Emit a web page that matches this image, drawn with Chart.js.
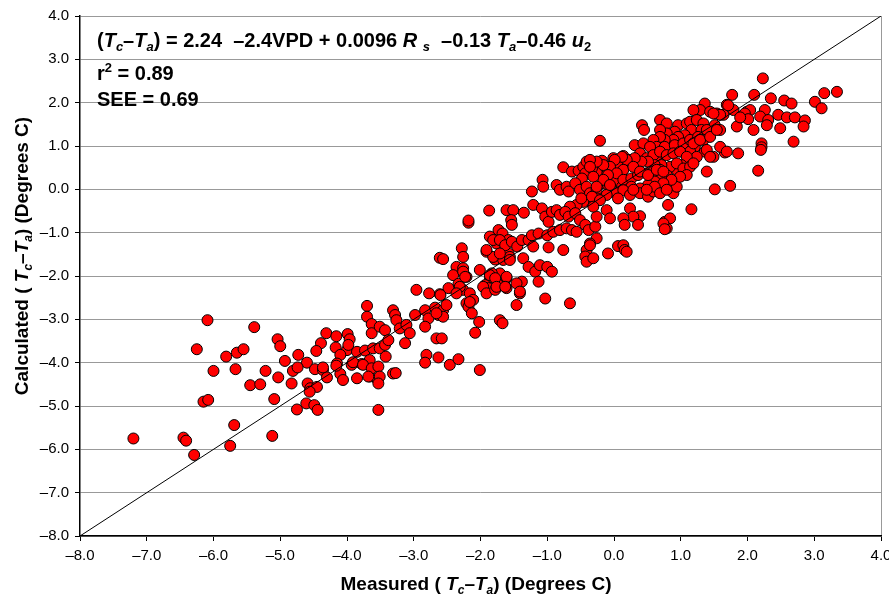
<!DOCTYPE html>
<html>
<head>
<meta charset="utf-8">
<script src="https://cdn.jsdelivr.net/npm/chart.js@4.4.0/dist/chart.umd.min.js"></script>
<style>
  html, body { margin: 0; padding: 0; background: #fff; }
  #wrap { width: 889px; height: 599px; position: relative; }
</style>
</head>
<body>
<div id="wrap"><canvas id="myChart"></canvas></div>
<script>
// [measured, calculated] pairs, degrees C
var obs = [
  // lower tail
  [-6.09,-3.02],[-5.39,-3.18],[-5.04,-3.46],[-5.00,-3.62],[-6.25,-3.69],[-5.81,-3.86],[-5.65,-3.77],[-5.55,-3.69],
  [-4.73,-3.82],[-4.93,-3.96],[-4.60,-4.00],[-4.39,-3.55],[-4.46,-3.73],[-4.31,-3.32],[-6.00,-4.19],[-5.67,-4.15],
  [-5.22,-4.19],[-4.81,-4.19],[-4.74,-4.11],[-5.03,-4.34],[-5.45,-4.52],[-5.30,-4.50],[-4.83,-4.48],[-4.59,-4.48],
  [-4.55,-4.59],[-4.45,-4.56],[-4.56,-4.67],[-4.48,-4.15],[-4.36,-4.17],[-4.30,-4.34],[-6.15,-4.90],[-6.08,-4.86],
  [-5.09,-4.84],[-4.75,-5.08],[-4.61,-4.94],[-4.49,-4.98],[-4.44,-5.09],[-5.69,-5.44],[-7.20,-5.75],[-6.45,-5.73],
  [-6.41,-5.80],[-5.12,-5.69],[-5.75,-5.92],[-6.29,-6.13],[-3.53,-5.09],
  [-4.16,-3.39],[-3.99,-3.34],[-3.96,-3.46],[-4.17,-3.65],[-4.00,-3.71],[-4.10,-3.82],[-3.85,-3.75],[-3.73,-3.72],
  [-3.61,-3.67],[-4.15,-4.02],[-3.93,-4.05],[-3.78,-4.03],[-3.66,-3.94],[-3.70,-2.69],[-3.70,-2.94],[-3.63,-3.11],
  [-3.63,-3.32],[-4.10,-4.26],[-3.85,-4.36],[-3.66,-4.32],[-4.06,-4.40],[-3.54,-4.40],
  // -4 .. -1.5
  [-2.18,-0.77],[-1.86,-1.09],[-1.73,-0.94],[-1.67,-1.02],[-1.76,-1.25],[-1.66,-1.21],[-1.58,-1.17],[-1.91,-1.44],
  [-1.78,-1.62],[-1.66,-1.63],[-1.58,-1.48],[-2.28,-1.36],[-2.26,-1.56],[-2.61,-1.58],[-2.56,-1.61],[-2.36,-1.79],
  [-2.26,-1.82],[-2.21,-2.02],[-2.41,-1.98],[-2.33,-2.18],[-2.48,-2.28],[-2.61,-2.42],[-2.01,-1.86],[-1.86,-2.03],
  [-1.93,-2.21],[-1.88,-2.28],[-1.78,-1.98],[-1.71,-2.13],[-1.61,-2.05],[-1.61,-2.28],[-2.26,-2.32],[-2.16,-2.40],
  [-2.11,-2.55],[-2.21,-2.63],[-2.18,-2.71],[-2.13,-2.86],[-2.02,-3.06],[-1.71,-3.02],[-1.67,-3.09],[-2.08,-3.31],
  [-2.96,-2.32],[-2.77,-2.40],[-2.60,-2.44],[-3.51,-3.17],[-3.43,-3.25],[-3.31,-2.79],[-3.28,-2.90],[-3.26,-3.02],
  [-3.21,-3.21],[-3.11,-3.13],[-3.06,-3.32],[-3.13,-3.55],[-2.98,-2.90],[-2.83,-2.79],[-2.78,-2.98],[-2.83,-3.17],
  [-2.68,-2.73],[-2.63,-2.90],[-2.56,-2.79],[-2.51,-2.67],[-2.56,-2.94],[-2.66,-3.44],[-2.58,-3.44],[-2.81,-3.82],
  [-2.83,-4.00],[-2.63,-3.88],[-2.46,-4.05],[-2.33,-3.92],[-2.01,-4.17],[-3.98,-3.59],[-3.51,-3.67],[-3.43,-3.59],
  [-3.38,-3.48],[-4.36,-4.11],[-4.16,-4.07],[-3.91,-3.99],[-3.76,-4.05],[-3.63,-4.13],[-3.53,-4.09],[-3.51,-4.32],
  [-3.68,-4.32],[-3.53,-4.48],[-3.31,-4.25],[-3.27,-4.24],[-3.42,-3.86],
  [-2.66,-2.86],[-1.71,-1.94],[-1.56,-1.56],[-1.81,-1.56],
  // -2.5 .. 0.2
  [-0.21,1.12],
  [-0.76,0.51],[-0.63,0.41],[-0.53,0.43],[-0.46,0.52],[-0.41,0.64],[-0.33,0.56],[-0.26,0.60],[-0.18,0.66],
  [-0.11,0.52],[-0.01,0.72],[0.06,0.60],[0.14,0.77],[0.19,0.64],[0.12,0.41],[0.04,0.29],[-0.06,0.37],
  [-0.16,0.37],[-0.26,0.41],[-0.36,0.43],[-0.43,0.37],
  [-0.48,0.25],[-0.33,0.49],[-0.13,0.52],[0.06,0.56],[0.24,0.68],[0.39,0.75],[0.49,0.68],[0.59,0.72],[0.69,0.75],
  [-1.07,0.22],[-1.06,0.06],[-1.23,-0.05],[-0.86,0.10],[-0.81,-0.01],[-0.71,0.06],[-0.68,-0.05],[-0.58,0.14],
  [-0.51,-0.01],[-0.41,0.06],[-0.36,-0.09],[-0.26,-0.01],[-0.16,0.14],[-0.09,0.10],[0.02,0.18],[0.12,0.06],
  [0.22,-0.01],[0.04,-0.09],[-0.11,-0.13],[-0.26,-0.21],[-0.36,-0.25],[-0.46,-0.29],[-0.56,-0.36],[-0.66,-0.40],
  [-0.49,-0.21],
  [-1.87,-0.49],[-1.61,-0.48],[-1.51,-0.48],[-1.35,-0.54],[-1.54,-0.71],[-1.53,-0.82],[-2.18,-0.72],[-1.21,-0.36],
  [-1.08,-0.44],[-1.03,-0.63],[-0.98,-0.75],[-0.93,-0.52],[-0.86,-0.48],[-0.81,-0.59],[-0.73,-0.52],[-0.68,-0.63],
  [-0.58,-0.55],[-0.51,-0.71],[-0.43,-0.82],[-0.38,-0.94],[-0.28,-0.86],[-0.26,-1.13],[-0.36,-1.25],[-0.41,-1.40],
  [-0.43,-1.55],[-0.41,-1.67],[-0.31,-1.59],[-0.09,-1.48],[0.06,-1.31],[0.14,-1.29],[0.16,-1.40],[-0.76,-1.40],
  [-1.91,-1.40],[-1.81,-1.17],[-1.71,-1.17],[-1.63,-1.29],[-1.53,-1.21],[-1.45,-1.32],[-1.38,-1.17],[-1.28,-1.17],
  [-1.23,-1.06],[-1.13,-1.02],[-1.00,-1.06],[-0.91,-0.98],[-0.81,-0.94],[-0.71,-0.90],[-0.63,-0.94],[-0.56,-0.98],
  [-0.98,-1.34],[-1.21,-1.32],[-1.36,-1.59],[-1.28,-1.79],[-1.18,-1.90],[-1.11,-1.75],[-1.00,-1.79],[-0.93,-1.90],
  [-1.13,-2.13],[-1.38,-2.13],[-1.41,-2.40],[-1.61,-2.02],[-1.71,-1.48],[-1.56,-1.63],[-1.83,-1.94],[-1.96,-2.25],
  [-1.91,-2.40],[-1.78,-2.32],
  [-2.26,-1.90],[-2.23,-2.02],[-2.31,-2.25],[-2.36,-2.40],[-2.16,-2.60],[-1.86,-1.98],[-1.78,-2.05],[-1.76,-2.25],
  [-1.63,-2.25],[-1.46,-2.17],[-1.41,-2.36],[-1.03,-2.52],[-1.46,-2.67],[-0.66,-2.63],
  // -0.4 .. 2.0
  [1.77,2.18],
  [1.36,1.98],[1.29,1.83],[1.19,1.83],[1.44,1.79],[1.54,1.75],[1.69,1.95],[1.64,1.72],[1.79,1.83],
  [1.91,1.68],[1.84,1.45],[1.99,1.79],[1.51,1.48],[1.59,1.37],
  [0.42,1.48],[0.45,1.37],[0.69,1.60],[0.79,1.52],[0.96,1.48],[1.09,1.52],[1.14,1.56],[1.24,1.60],
  [1.34,1.52],[0.91,1.33],[0.79,1.29],[0.69,1.37],[1.16,1.37],[1.31,1.37],[1.39,1.37],[1.06,1.25],
  [0.96,1.21],[0.89,1.14],[0.76,1.14],[0.69,1.21],[0.59,1.14],[0.64,0.98],[0.76,0.98],[0.91,1.02],
  [1.04,1.06],[1.14,1.14],[1.26,1.21],[1.34,1.14],[1.21,0.98],[1.14,0.87],[1.36,0.87],[1.24,0.75],
  [1.49,0.75],[1.66,0.85],[1.86,0.83],[1.39,0.41],[1.51,0.00],[1.74,0.08],[1.16,-0.46],
  [1.19,1.06],[1.29,1.14],[1.44,1.21],[1.54,1.37],[1.39,0.91],[1.59,0.98],[1.69,0.87],
  [0.31,1.02],[0.44,1.06],[0.54,0.98],[0.39,0.83],[0.49,0.72],[0.59,0.79],[0.69,0.87],[0.79,0.79],
  [0.89,0.83],[0.99,0.87],[1.09,0.75],[1.01,0.56],[1.04,0.41],[0.94,0.45],[0.84,0.52],[0.71,0.56],
  [0.61,0.56],[0.51,0.64],[0.41,0.64],[0.31,0.72],[0.19,0.68],[0.12,0.75],[0.01,0.68],[-0.06,0.52],
  [-0.16,0.56],[-0.26,0.64],[-0.36,0.68],[0.14,0.45],[0.04,0.37],[-0.09,0.33],[-0.16,0.22],[-0.06,0.10],
  [0.14,0.22],[0.26,0.25],[0.36,0.33],[0.49,0.37],[0.59,0.41],[0.69,0.45],[0.79,0.33],[0.71,0.25],
  [0.61,0.18],[0.51,0.10],[0.39,0.02],[0.26,0.06],[0.14,-0.02],[0.06,-0.21],[0.24,-0.13],[0.39,-0.09],
  [0.51,-0.17],[0.59,-0.05],[0.71,-0.02],[0.81,0.06],[0.89,-0.09],[0.94,0.06],
  [0.29,0.52],[0.39,0.41],[0.51,0.33],[0.64,0.45],[0.74,0.41],[0.94,0.60],[1.04,0.48],[1.14,0.52],
  [1.19,0.60],[1.09,0.33],[0.99,0.29],[0.86,0.22],[0.74,0.14],[0.61,0.06],[0.49,-0.01],[0.29,-0.01],
  [0.69,-0.09],[0.79,-0.01],
  [0.81,-0.36],[0.24,-0.44],[0.39,-0.62],[0.29,-0.63],[0.14,-0.67],[0.16,-0.82],[0.36,-0.82],[0.76,-0.75],
  [0.84,-0.67],[0.79,-0.90],[0.74,-0.79],[0.76,-0.92],
  [-0.11,-0.48],[-0.06,-0.67],[-0.26,-0.63],[-0.36,-1.29],[0.19,-1.44],
  [-0.36,0.52],[-0.31,0.29],[-0.26,0.06],[-0.33,-0.17],[-0.21,-0.25],[-0.31,-0.40],
  // right end
  [2.23,2.56],[2.10,2.18],[2.35,2.10],[2.55,2.05],[2.66,1.98],[3.01,2.02],[3.11,1.87],[3.15,2.22],[3.34,2.25],
  [1.71,1.94],[2.04,1.83],[1.96,1.75],[2.26,1.83],[2.19,1.68],[2.31,1.60],[2.46,1.72],[2.59,1.66],
  [2.71,1.66],[2.86,1.59],[2.84,1.45],[2.49,1.41],[2.29,1.48],[2.09,1.37],[2.01,1.62],[1.89,1.66],
  [1.59,1.72],[1.49,1.75],
  [2.69,1.10],[2.21,1.06],[2.21,0.97],[2.20,0.91],[1.44,0.75],[2.16,0.43]
];

// 1:1 line
var oneToOneX = [-8, 4];
var oneToOneY = [-8, 4];

// axis ticks
var tickValues = [-8, -7, -6, -5, -4, -3, -2, -1, 0, 1, 2, 3, 4];
var tickLabels = ['\u20138.0', '\u20137.0', '\u20136.0', '\u20135.0', '\u20134.0', '\u20133.0', '\u20132.0', '\u20131.0',
                  '0.0', '1.0', '2.0', '3.0', '4.0'];

var FONT = '"Liberation Sans", Arial, sans-serif';

function tickLabel(v) {
  var i = tickValues.indexOf(v);
  return i < 0 ? '' : tickLabels[i];
}

// draws text pieces with italics / sub / superscripts
function runFont(r, size) {
  var s = (r.sub || r.sup) ? Math.round(size * 0.65) : size;
  return (r.it ? 'italic ' : '') + 'bold ' + s + 'px ' + FONT;
}
function runsWidth(ctx, runs, size) {
  var w = 0;
  runs.forEach(function (r) { ctx.font = runFont(r, size); w += ctx.measureText(r.t).width; });
  return w;
}
function drawRuns(ctx, runs, x, y, size) {
  runs.forEach(function (r) {
    ctx.font = runFont(r, size);
    var dy = r.sub ? size * 0.22 : (r.sup ? -size * 0.42 : 0);
    ctx.fillText(r.t, x, y + dy);
    x += ctx.measureText(r.t).width;
  });
}

var eqRuns = [
  {t: '('}, {t: 'T', it: true}, {t: 'c', it: true, sub: true}, {t: '\u2013'}, {t: 'T', it: true},
  {t: 'a', it: true, sub: true}, {t: ') = 2.24  \u20132.4VPD + 0.0096 '}, {t: 'R', it: true}, {t: ' '},
  {t: 's', it: true, sub: true}, {t: '  \u20130.13 '}, {t: 'T', it: true}, {t: 'a', it: true, sub: true},
  {t: '\u20130.46 '}, {t: 'u', it: true}, {t: '2', sub: true}
];
var r2Runs = [{t: 'r'}, {t: '2', sup: true}, {t: ' = 0.89'}];
var seeRuns = [{t: 'SEE = 0.69'}];
var xTitleRuns = [
  {t: 'Measured ( '}, {t: 'T', it: true}, {t: 'c', it: true, sub: true}, {t: '\u2013'}, {t: 'T', it: true},
  {t: 'a', it: true, sub: true}, {t: ') (Degrees C)'}
];
var yTitleRuns = [
  {t: 'Calculated ( '}, {t: 'T', it: true}, {t: 'c', it: true, sub: true}, {t: '\u2013'}, {t: 'T', it: true},
  {t: 'a', it: true, sub: true}, {t: ') (Degrees C)'}
];

var textPlugin = {
  id: 'texts',
  afterDraw: function (chart) {
    var ctx = chart.ctx;
    ctx.save();
    ctx.fillStyle = '#000';
    ctx.textBaseline = 'alphabetic';
    ctx.textAlign = 'left';
    drawRuns(ctx, eqRuns, 97, 47, 20);
    drawRuns(ctx, r2Runs, 97, 80, 20);
    drawRuns(ctx, seeRuns, 97, 106, 20);

    var tsize = 19;
    var w = runsWidth(ctx, xTitleRuns, tsize);
    drawRuns(ctx, xTitleRuns, 476 - w / 2, 590, tsize);

    w = runsWidth(ctx, yTitleRuns, tsize);
    ctx.translate(28, 256);
    ctx.rotate(-Math.PI / 2);
    drawRuns(ctx, yTitleRuns, -w / 2, 0, tsize);
    ctx.restore();
  }
};

var ctx = document.getElementById('myChart').getContext('2d');
var chart = new Chart(ctx, {
  data: {
    datasets: [{
      type: 'line',
      data: oneToOneX.map(function (x, i) { return {x: x, y: oneToOneY[i]}; }),
      borderColor: '#000',
      borderWidth: 1,
      pointRadius: 0,
      fill: false,
      order: 0
    }, {
      type: 'scatter',
      data: obs.map(function (p) { return {x: p[0], y: p[1]}; }),
      backgroundColor: '#ff0000',
      borderColor: '#000',
      borderWidth: 1,
      pointRadius: 5.5,
      order: 1
    }]
  },
  options: {
    responsive: true,
    maintainAspectRatio: false,
    devicePixelRatio: 1,
    animation: false,
    layout: { padding: { top: 16, right: 8, left: 0, bottom: 0 } },
    plugins: { legend: { display: false }, tooltip: { enabled: false } },
    scales: {
      x: {
        type: 'linear',
        min: -8, max: 4,
        afterBuildTicks: function (s) { s.ticks = tickValues.map(function (v) { return {value: v}; }); },
        afterFit: function (s) { s.height = 63; s.paddingLeft = 0; s.paddingRight = 0; },
        ticks: { callback: tickLabel, font: { family: FONT, size: 15 }, color: '#000', padding: 6, maxRotation: 0 },
        grid: {
          color: function (c) { return c.tick && c.tick.value === 4 ? '#999' : 'rgba(0,0,0,0)'; },
          tickColor: '#000', tickLength: 5, lineWidth: 1
        },
        border: { color: '#000', width: 1.5 }
      },
      y: {
        type: 'linear',
        min: -8, max: 4,
        afterBuildTicks: function (s) { s.ticks = tickValues.map(function (v) { return {value: v}; }); },
        afterFit: function (s) { s.width = 80; s.paddingTop = 0; s.paddingBottom = 0; },
        ticks: { callback: tickLabel, font: { family: FONT, size: 15 }, color: '#000', padding: 6 },
        grid: { color: '#999', tickColor: '#000', tickLength: 5, lineWidth: 1 },
        border: { color: '#000', width: 1.5 }
      }
    }
  },
  plugins: [textPlugin]
});
</script>
</body>
</html>
